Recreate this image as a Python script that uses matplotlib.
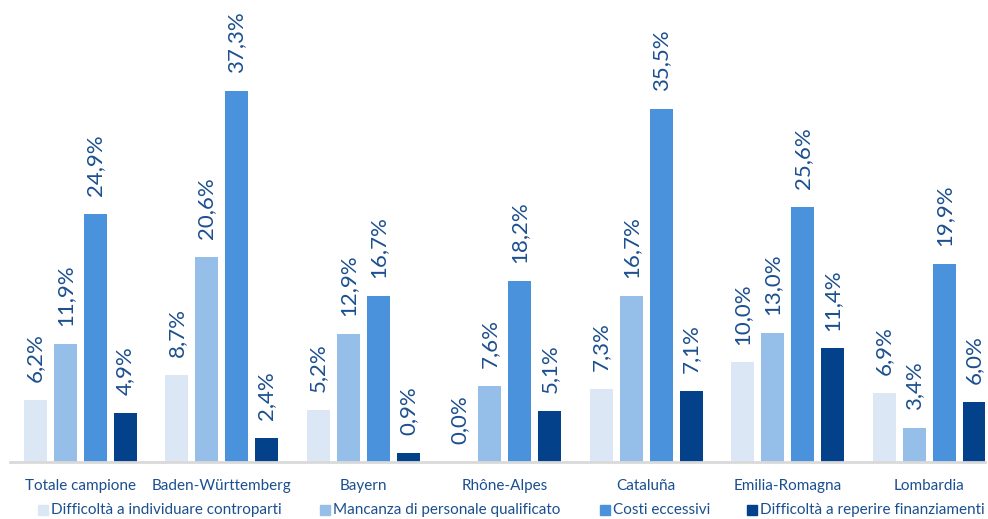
import numpy as np
import matplotlib.pyplot as plt
from matplotlib.patches import Rectangle

regions = ['Totale campione', 'Baden-Württemberg', 'Bayern', 'Rhône-Alpes',
           'Cataluña', 'Emilia-Romagna', 'Lombardia']
series_names = ['Difficoltà a individuare controparti',
                'Mancanza di personale qualificato',
                'Costi eccessivi',
                'Difficoltà a reperire finanziamenti']
controparti = [6.2, 8.7, 5.2, 0.0, 7.3, 10.0, 6.9]
personale = [11.9, 20.6, 12.9, 7.6, 16.7, 13.0, 3.4]
costi = [24.9, 37.3, 16.7, 18.2, 35.5, 25.6, 19.9]
finanziamenti = [4.9, 2.4, 0.9, 5.1, 7.1, 11.4, 6.0]

colors = ['#dce7f6', '#95bfe9', '#4a92dc', '#03428a']
label_color = '#1b4f8f'

plt.rcParams['font.family'] = ['Lato', 'DejaVu Sans']

W, H = 988, 519
fig = plt.figure(figsize=(W / 100, H / 100), dpi=100)
ax = fig.add_axes([10 / W, 57 / H, 975 / W, 462 / H])

x = np.arange(len(regions))
step = 0.212
width = 0.163
data = [controparti, personale, costi, finanziamenti]
for i, vals in enumerate(data):
    pos = x + (i - 1.5) * step
    ax.bar(pos, vals, width, color=colors[i], label=series_names[i])
    for p, v in zip(pos, vals):
        ax.text(p, v + 1.8, ('%.1f%%' % v).replace('.', ','), rotation=90,
                ha='center', va='bottom', fontsize=16, color=label_color)

ax.set_xlim(-0.495, 6.395)
ax.set_ylim(0, 46.4)
ax.set_yticks([])
ax.set_xticks(x)
ax.set_xticklabels(regions, fontsize=11, color=label_color)
ax.tick_params(axis='x', length=0, pad=12)
for s in ['top', 'right', 'left']:
    ax.spines[s].set_visible(False)
ax.spines['bottom'].set_color('#d9d9d9')
ax.spines['bottom'].set_linewidth(2)

# legend drawn by hand so the entries sit where the original has them
leg_x = [38, 320, 600, 747]
for lx, name, c in zip(leg_x, series_names, colors):
    fig.add_artist(Rectangle((lx / W, 4 / H), 10 / W, 10 / H, color=c,
                             transform=fig.transFigure))
    fig.text((lx + 13) / W, 9 / H, name, fontsize=11, color=label_color,
             va='center', ha='left')

fig.savefig('out.png', dpi=100)
